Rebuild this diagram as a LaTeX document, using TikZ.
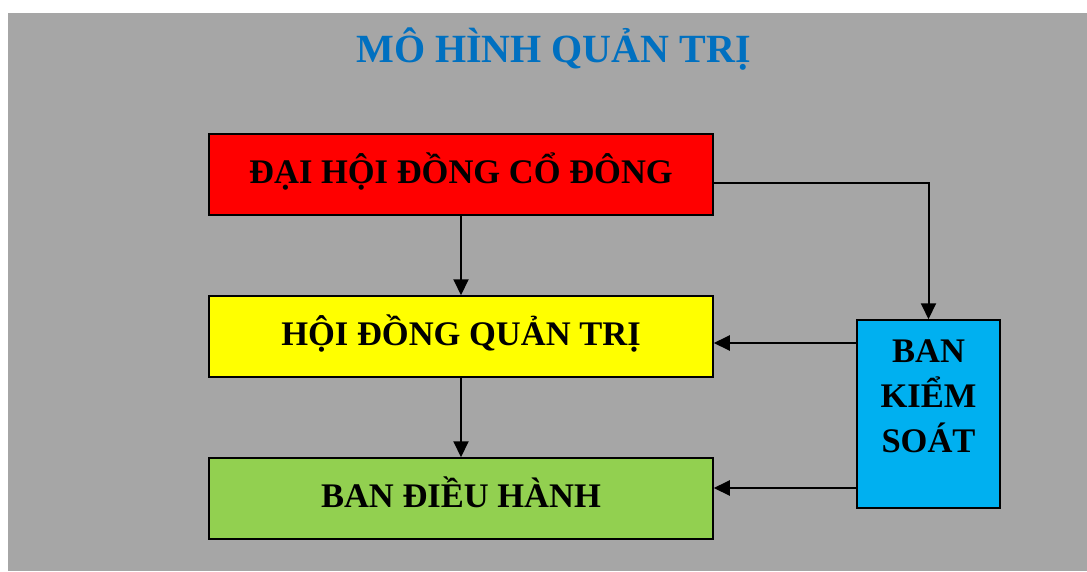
\documentclass[tikz,border=0pt]{standalone}
\usepackage{fontspec}
\setmainfont{Liberation Serif}
\usetikzlibrary{arrows.meta,positioning}
\definecolor{bggray}{RGB}{166,166,166}
\definecolor{titleblue}{RGB}{0,112,192}
\definecolor{boxred}{RGB}{255,0,0}
\definecolor{boxyellow}{RGB}{255,255,0}
\definecolor{boxgreen}{RGB}{146,208,80}
\definecolor{boxblue}{RGB}{0,176,240}

\begin{document}
\begin{tikzpicture}[x=1pt, y=-1pt,
  orgbox/.style={draw, line width=1.5pt, minimum width=504pt,
    minimum height=81pt, inner sep=0pt, font=\fontsize{34.5}{40}\selectfont\bfseries,
    text height=23pt, text depth=4.2pt},
  arr/.style={-{Triangle[length=16pt, width=15pt]}, line width=2pt}]
\useasboundingbox (0,0) rectangle (1087,571);
\fill[bggray] (8,13) rectangle (1087,571);
% Title
\node[anchor=base, text=titleblue, font=\fontsize{40}{46}\selectfont\bfseries]
  (title) at (553.5,62) {MÔ HÌNH QUẢN TRỊ};
% Main boxes
\node[orgbox, fill=boxred] (agm) at (461,174.5) {ĐẠI HỘI ĐỒNG CỔ ĐÔNG};
\node[orgbox, fill=boxyellow] (board) at (461,336.5) {HỘI ĐỒNG QUẢN TRỊ};
\node[orgbox, fill=boxgreen] (exec) at (461,498.5) {BAN ĐIỀU HÀNH};
% Supervisory board
\node[draw, line width=1.5pt, fill=boxblue, minimum width=143pt,
      minimum height=188pt] (super) at (928.5,414) {};
\node[align=center, font=\fontsize{34.5}{45}\selectfont\bfseries]
  (supertext) at ([yshift=18pt]super.center) {BAN\\KIỂM\\SOÁT};
% Arrows
\draw[arr] (agm) -- (board);
\draw[arr] (board) -- (exec);
\draw[arr] ([yshift=-8.5pt]agm.east) -| (super.north);
\draw[arr] ([yshift=-6.5pt]board.east -| super.west) -- ([yshift=-6.5pt]board.east);
\draw[arr] ([yshift=10.5pt]exec.east -| super.west) -- ([yshift=10.5pt]exec.east);
\end{tikzpicture}
\end{document}
